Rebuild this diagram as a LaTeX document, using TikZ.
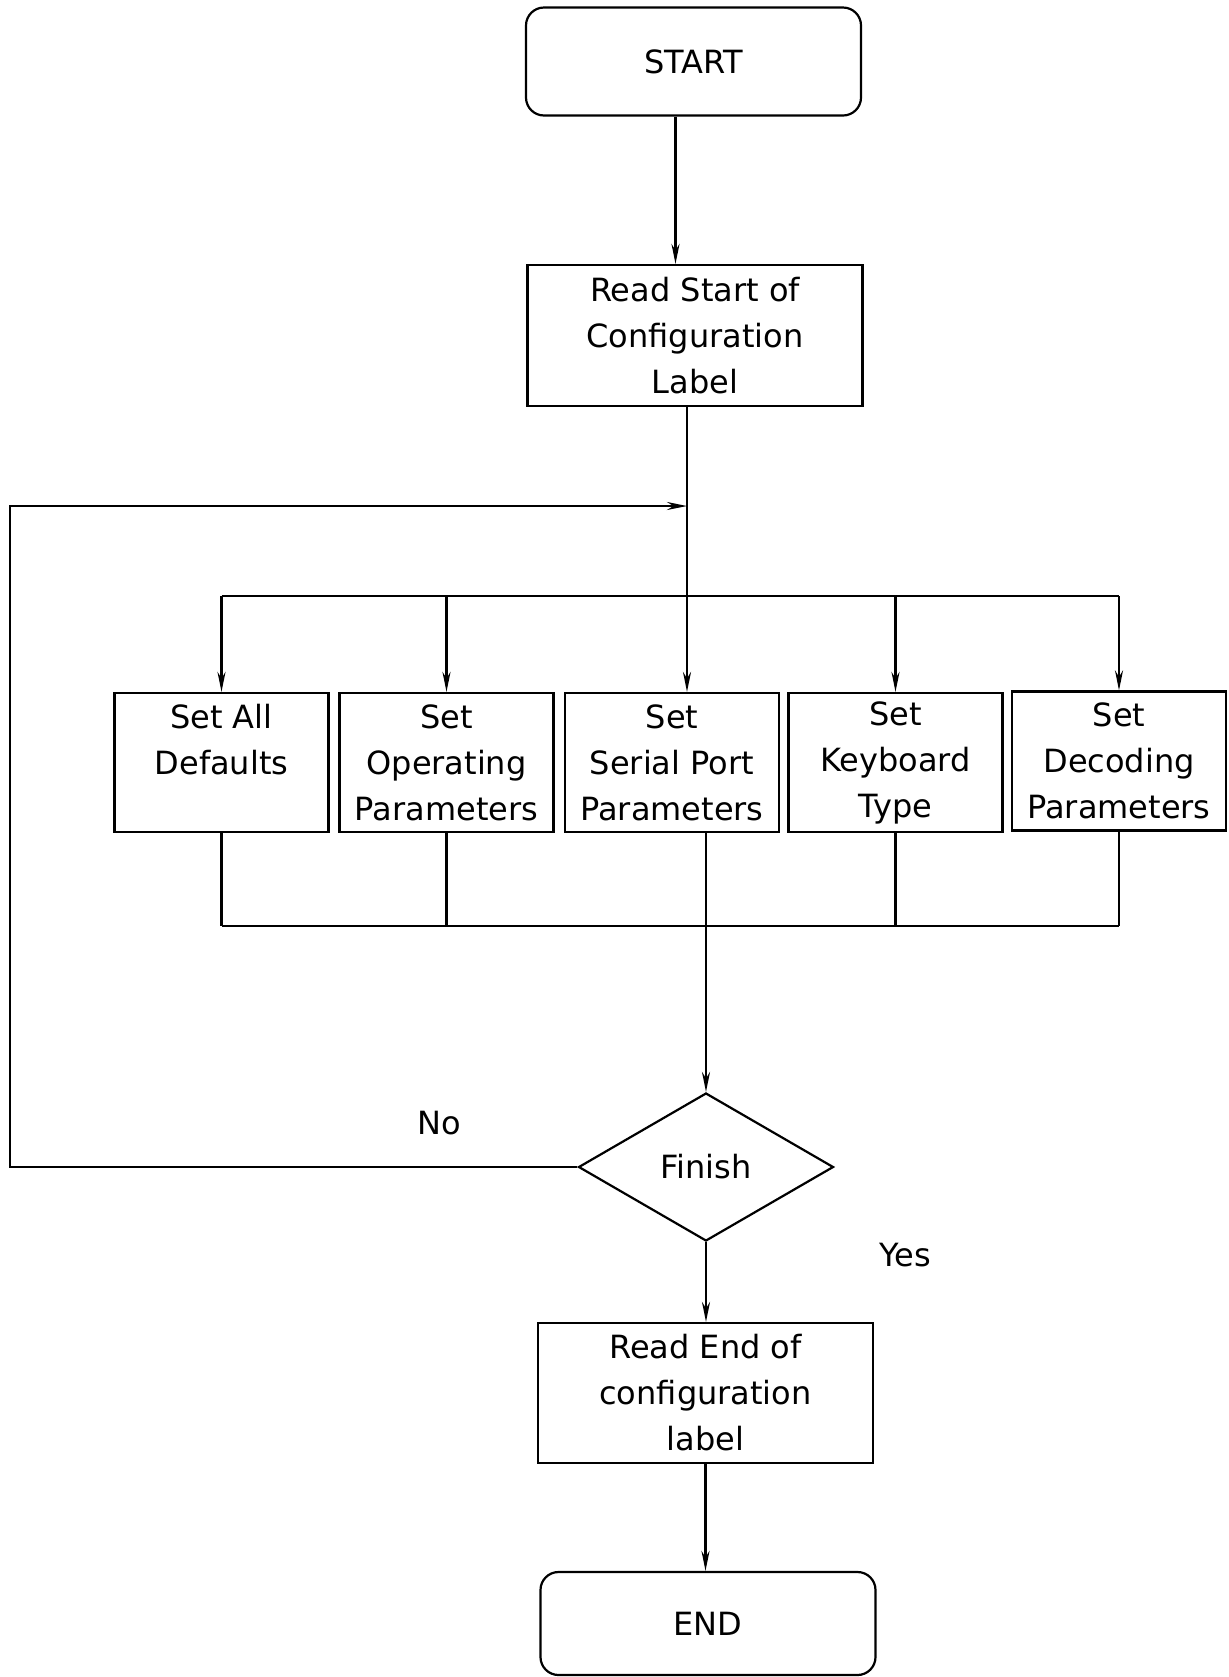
\documentclass[tikz,border=0pt]{standalone}
\usepackage{fontspec}
\setmainfont{DejaVu Sans}
\usetikzlibrary{shapes.geometric}
\usetikzlibrary{arrows.meta}
\tikzset{every node/.style={font=\fontsize{16}{23}\selectfont}, % Text size of all labels
process/.style={ % Plain rectangular step
draw,
line width=1.1pt,
align=center,
inner sep=2pt},
setbox/.style={process, minimum width=107pt, minimum height=69.5pt},
widebox/.style={process, minimum width=167.5pt, minimum height=70.5pt},
terminal/.style={process, rounded corners=9pt, minimum width=167.5pt, minimum height=54pt},
decision/.style={ % The Finish test
draw,
diamond,
line width=1.1pt,
inner sep=0pt,
aspect=1.7,
minimum width=127.5pt,
minimum height=74pt},
wire/.style={line width=1.2pt},
flow/.style={wire, -{Stealth[length=10pt,width=4pt]}}}

\begin{document}
\begin{tikzpicture}[x=0.5pt, y=-0.5pt]
\useasboundingbox (0,0) rectangle (1228,1677);
\node[terminal] (start) at (693.5,61.5) {START};
\node[widebox] (readstart) at (695,335.5) {Read Start of\\Configuration\\Label};
\node[setbox] (defaults) at (221.5,762.5) {Set All\\Defaults\\\mbox{}};
\node[setbox] (operating) at (446.5,762.5) {Set\\Operating\\Parameters};
\node[setbox] (serial) at (672,762.5) {Set\\Serial Port\\Parameters};
\node[setbox] (keyboard) at (895.5,762.5) {Set\\Keyboard\\Type};
\node[setbox] (decoding) at (1119,761) {Set\\Decoding\\Parameters};
\node[decision] (finish) at (706,1167) {Finish};
\node (no) at (439,1123) {No};
\node (yes) at (905,1255) {Yes};
\node[widebox, minimum height=70pt] (readend) at (705.5,1393) {Read End of\\configuration\\label};
\node[terminal, minimum height=51.5pt] (end) at (708,1623.5) {END};
% rows and rails of the wiring
\coordinate (looprow) at (0,506);
\coordinate (splitrow) at (0,596);
\coordinate (mergerow) at (0,926);
\coordinate (leftrail) at (10,0);
\coordinate (trunk) at ([xshift=-4pt]readstart.south);
\draw[flow] ([xshift=-9pt]start.south) -- ([xshift=-9pt]start.south |- readstart.north);
\draw[flow] (trunk) -- (trunk |- serial.north);
\draw[wire] (defaults.north |- splitrow) -- (decoding.north |- splitrow);
\foreach \b in {defaults,operating,keyboard,decoding}
  \draw[flow] (\b.north |- splitrow) -- (\b.north);
\draw[wire] (defaults.south |- mergerow) -- (decoding.south |- mergerow);
\foreach \b in {defaults,operating,keyboard,decoding}
  \draw[wire] (\b.south) -- (\b.south |- mergerow);
\draw[flow] (finish.north |- serial.south) -- (finish.north);
\draw[flow] (finish.west) -- (finish.west -| leftrail) -- (leftrail |- looprow) -- (trunk |- looprow);
\draw[flow] (finish.south) -- (finish.south |- readend.north);
\draw[flow] (readend.south) -- (readend.south |- end.north);
\end{tikzpicture}
\end{document}
